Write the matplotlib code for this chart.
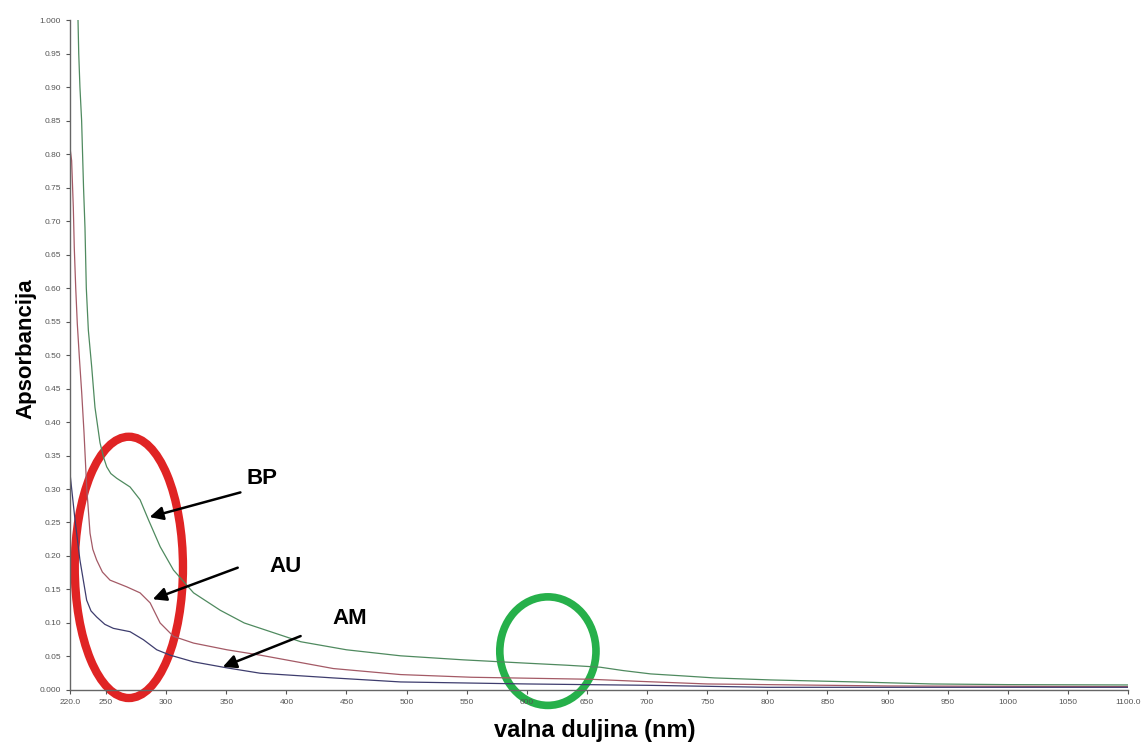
import matplotlib.pyplot as plt
from matplotlib.patches import Ellipse

# spectra (wavelength nm, absorbance)
bp_wl = [226.7, 227.3, 228.3, 229.7, 230.5, 231.3, 232.5, 233.6, 235.3, 238.1, 240.8, 245, 248,
         250.6, 254, 258.9, 270, 278.3, 285.3, 295, 306.1, 322.8, 345, 365, 412, 450, 495, 547,
         600, 633, 661, 680, 703, 730, 756, 803, 874, 937, 1000, 1100]
bp_abs = [1.0, 0.95, 0.90, 0.85, 0.80, 0.75, 0.69, 0.60, 0.537, 0.482, 0.422, 0.369, 0.347,
          0.333, 0.323, 0.316, 0.303, 0.284, 0.254, 0.214, 0.179, 0.145, 0.119, 0.100, 0.072,
          0.060, 0.051, 0.045, 0.040, 0.037, 0.034, 0.029, 0.024, 0.021, 0.018, 0.015, 0.012,
          0.009, 0.008, 0.0075]

au_wl = [220, 221.4, 222.8, 223.6, 224.8, 226.1, 227.8, 229.8, 231.7, 233.9, 236.7, 239, 242.2,
         247, 253.3, 267.2, 278.3, 286.7, 295, 306.1, 322.8, 350.6, 378.3, 439, 495, 554, 653,
         692, 750, 900, 1100]
au_abs = [0.81, 0.79, 0.72, 0.66, 0.60, 0.547, 0.497, 0.443, 0.384, 0.303, 0.234, 0.210, 0.194,
          0.176, 0.164, 0.154, 0.145, 0.130, 0.100, 0.080, 0.070, 0.060, 0.052, 0.032, 0.023,
          0.019, 0.016, 0.013, 0.009, 0.006, 0.005]

am_wl = [220, 224.2, 228.3, 233.9, 237.5, 242.2, 249, 256.1, 270, 281.1, 292.2, 303.3, 322.8,
         350.6, 378.3, 439, 495, 600, 700, 800, 900, 1000, 1100]
am_abs = [0.324, 0.254, 0.194, 0.134, 0.118, 0.109, 0.098, 0.092, 0.087, 0.075, 0.060, 0.052,
          0.042, 0.033, 0.025, 0.018, 0.012, 0.009, 0.007, 0.004, 0.004, 0.004, 0.004]

x_ticks = [220, 250, 300, 350, 400, 450, 500, 550, 600, 650, 700, 750, 800, 850, 900, 950, 1000, 1050, 1100]
x_labels = ["220.0"] + [str(t) for t in x_ticks[1:-1]] + ["1100.0"]
y_ticks = [i * 0.05 for i in range(21)]
y_labels = ["0.000"] + ["%.2f" % v for v in y_ticks[1:-1]] + ["1.000"]

plt.rcParams['font.family'] = ['Liberation Sans', 'DejaVu Sans']

fig = plt.figure(figsize=(11.43, 7.42), dpi=100)
ax = fig.add_axes([0.0612, 0.0701, 0.9257, 0.9029])

ax.plot(bp_wl, bp_abs, color='#4f8a5f', lw=0.9)
ax.plot(au_wl, au_abs, color='#a45a66', lw=0.9)
ax.plot(am_wl, am_abs, color='#3e3d6e', lw=0.9)

ax.set_xlim(220, 1100)
ax.set_ylim(0, 1.0)
ax.set_xticks(x_ticks)
ax.set_xticklabels(x_labels)
ax.set_yticks(y_ticks)
ax.set_yticklabels(y_labels)
ax.tick_params(labelsize=6, colors='#555555', length=3, width=0.8)
for s in ['top', 'right']:
    ax.spines[s].set_visible(False)
for s in ['left', 'bottom']:
    ax.spines[s].set_color('#666666')
    ax.spines[s].set_linewidth(1.0)

# axis titles placed like the reference
ax.set_ylabel("Apsorbancija", fontsize=16, fontweight='bold', va='center')
ax.yaxis.set_label_coords(-0.042, 0.51)
fig.text(595 / 1143, 1 - 731 / 742, "valna duljina (nm)", fontsize=17, fontweight='bold',
         ha='center', va='center')

# highlighted regions
ax.add_patch(Ellipse((269, 0.183), 90, 0.39, fill=False, ec='#e02424', lw=6, clip_on=False))
ax.add_patch(Ellipse((617.5, 0.058), 80, 0.162, fill=False, ec='#26b04a', lw=5.5, clip_on=False))

# labels with arrows
arrow = dict(arrowstyle='-|>', color='black', lw=1.8, mutation_scale=20)
ax.annotate("", xy=(284, 0.257), xytext=(364, 0.296), arrowprops=arrow)
ax.annotate("", xy=(286.7, 0.134), xytext=(361.7, 0.184), arrowprops=arrow)
ax.annotate("", xy=(345, 0.033), xytext=(414, 0.082), arrowprops=arrow)
ax.text(380, 0.316, "BP", fontsize=16, fontweight='bold', ha='center', va='center')
ax.text(399, 0.184, "AU", fontsize=16, fontweight='bold', ha='center', va='center')
ax.text(453, 0.106, "AM", fontsize=16, fontweight='bold', ha='center', va='center')

fig.savefig("out.png", dpi=100)
